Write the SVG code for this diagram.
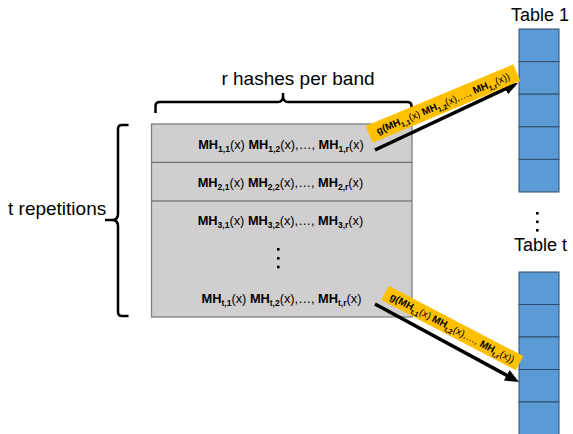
<svg xmlns="http://www.w3.org/2000/svg" width="573" height="434" viewBox="0 0 573 434">
<defs>
<style>
.lbl{font-family:"Liberation Sans",Arial,sans-serif;fill:#000;}
.big{font-size:19px;}
.tbl{font-size:18px;text-anchor:middle;}
.row{font-family:"Liberation Sans",Arial,sans-serif;font-size:12.8px;text-anchor:middle;fill:#000;}
.band{font-family:"Liberation Sans",Arial,sans-serif;font-size:10px;text-anchor:middle;fill:#000;}
.b{font-weight:bold;}
.sub{font-weight:bold;font-size:8.5px;}
.bsub{font-weight:bold;font-size:7px;}
.cell{fill:#5b9bd5;stroke:#2e4d6b;stroke-width:1;}
.brace{fill:none;stroke:#000;stroke-width:2.5;stroke-linejoin:round;}
.arrow{stroke:#000;stroke-width:3.5;fill:none;marker-end:url(#ah);}
.yb{fill:#ffc000;}
</style>
<marker id="ah" markerUnits="userSpaceOnUse" markerWidth="14" markerHeight="12" refX="4" refY="6" orient="auto">
<path d="M0,0 L14,6 L0,12 z" fill="#000"/>
</marker>
</defs>
<rect width="573" height="434" fill="#fff"/>

<g id="band-box">
<rect x="151.5" y="124" width="260.5" height="193" fill="#d0cece" stroke="#7f7f7f" stroke-width="1.3"/>
<line x1="151.5" y1="162.3" x2="412" y2="162.3" stroke="#595959" stroke-width="1"/>
<line x1="151.5" y1="201" x2="412" y2="201" stroke="#595959" stroke-width="1"/>
<text class="row" x="281" y="148.5"><tspan class="b">MH</tspan><tspan class="sub" baseline-shift="-3">1,1</tspan>(x) <tspan class="b">MH</tspan><tspan class="sub" baseline-shift="-3">1,2</tspan>(x),…, <tspan class="b">MH</tspan><tspan class="sub" baseline-shift="-3">1,r</tspan>(x)</text>
<text class="row" x="280.5" y="187"><tspan class="b">MH</tspan><tspan class="sub" baseline-shift="-3">2,1</tspan>(x) <tspan class="b">MH</tspan><tspan class="sub" baseline-shift="-3">2,2</tspan>(x),…, <tspan class="b">MH</tspan><tspan class="sub" baseline-shift="-3">2,r</tspan>(x)</text>
<text class="row" x="280.5" y="225"><tspan class="b">MH</tspan><tspan class="sub" baseline-shift="-3">3,1</tspan>(x) <tspan class="b">MH</tspan><tspan class="sub" baseline-shift="-3">3,2</tspan>(x),…, <tspan class="b">MH</tspan><tspan class="sub" baseline-shift="-3">3,r</tspan>(x)</text>
<rect x="277" y="248" width="2.6" height="2.6" fill="#000"/>
<rect x="277" y="257" width="2.6" height="2.6" fill="#000"/>
<rect x="277" y="265.7" width="2.6" height="2.6" fill="#000"/>
<text class="row" x="281.5" y="303"><tspan class="b">MH</tspan><tspan class="sub" baseline-shift="-3">t,1</tspan>(x) <tspan class="b">MH</tspan><tspan class="sub" baseline-shift="-3">t,2</tspan>(x),…, <tspan class="b">MH</tspan><tspan class="sub" baseline-shift="-3">t,r</tspan>(x)</text>
</g>

<g id="r-brace">
<path class="brace" d="M155.5,113 L155.5,106 Q155.5,102 160,102 L278,102 Q283,102 283,96 L283,93 M283,96 Q283,102 288,102 L407,102 Q411.5,102 411.5,106 L411.5,113"/>
<text class="lbl big" x="298" y="85" text-anchor="middle">r hashes per band</text>
</g>

<g id="t-brace">
<path class="brace" d="M128.5,125 L122,125 Q118,125 118,129 L118,214 Q118,220 112,220 L105,220 M112,220 Q118,220 118,226 L118,312 Q118,316 122,316 L128.5,316"/>
<text class="lbl big" x="8" y="215">t repetitions</text>
</g>

<g id="table-1">
<text class="lbl tbl" x="540" y="21">Table 1</text>
<rect class="cell" x="519" y="29" width="40" height="32.6"/>
<rect class="cell" x="519" y="61.6" width="40" height="32.6"/>
<rect class="cell" x="519" y="94.2" width="40" height="32.6"/>
<rect class="cell" x="519" y="126.8" width="40" height="32.6"/>
<rect class="cell" x="519" y="159.4" width="40" height="32.6"/>
</g>

<g id="table-dots">
<rect x="536" y="212" width="2.6" height="2.6" fill="#000"/>
<rect x="536" y="220.5" width="2.6" height="2.6" fill="#000"/>
<rect x="536" y="229" width="2.6" height="2.6" fill="#000"/>
</g>

<g id="table-t">
<text class="lbl tbl" x="540.5" y="251">Table t</text>
<rect class="cell" x="519" y="272" width="40" height="32.5"/>
<rect class="cell" x="519" y="304.5" width="40" height="32.5"/>
<rect class="cell" x="519" y="337" width="40" height="32.5"/>
<rect class="cell" x="519" y="369.5" width="40" height="32.5"/>
<rect class="cell" x="519" y="402" width="40" height="33"/>
</g>

<g id="connectors">
<line class="arrow" x1="375" y1="150" x2="509" y2="87.2"/>
<line class="arrow" x1="375" y1="304" x2="510.2" y2="377.2"/>
</g>

<g id="hash-label-1" transform="translate(443,103.5) rotate(-22.7)">
<rect class="yb" x="-80" y="-9" width="160" height="18"/>
<text class="band" x="0" y="3.5"><tspan class="b">g(MH</tspan><tspan class="bsub" baseline-shift="-2.5">1,1</tspan>(x) <tspan class="b">MH</tspan><tspan class="bsub" baseline-shift="-2.5">1,2</tspan>(x),…, <tspan class="b">MH</tspan><tspan class="bsub" baseline-shift="-2.5">1,r</tspan>(x))</text>
</g>

<g id="hash-label-t" transform="translate(452.3,328) rotate(27.6)">
<rect class="yb" x="-76" y="-8" width="152" height="16"/>
<text class="band" x="0" y="3.5"><tspan class="b">g(MH</tspan><tspan class="bsub" baseline-shift="-2.5">t,1</tspan>(x) <tspan class="b">MH</tspan><tspan class="bsub" baseline-shift="-2.5">t,2</tspan>(x),…, <tspan class="b">MH</tspan><tspan class="bsub" baseline-shift="-2.5">t,r</tspan>(x))</text>
</g>
</svg>
